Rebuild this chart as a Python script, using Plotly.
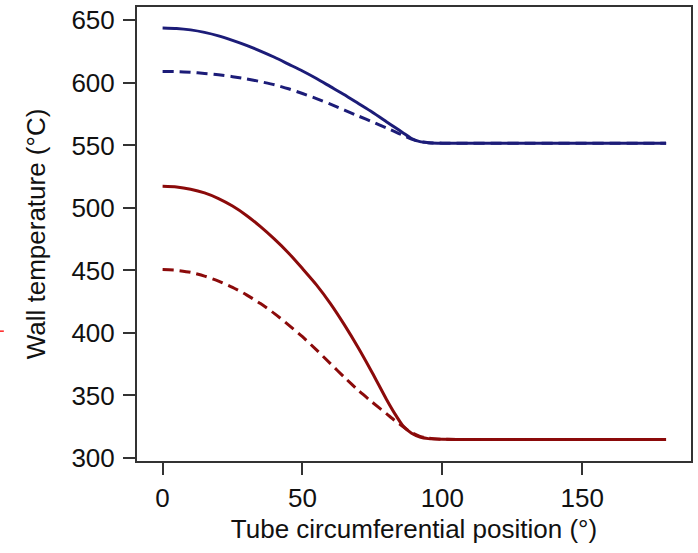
import plotly.graph_objects as go

# circumferential position (deg)
pos = [0, 5, 10, 15, 20, 25, 30, 35, 40, 45, 50, 55, 60, 65, 70, 75, 80, 83, 86, 89, 92, 95, 100,
       110, 120, 130, 140, 150, 160, 170, 180]

blue_solid = [644, 643.6, 642.4, 640.4, 637.6, 634, 630, 625.5, 620.5, 615, 609.5, 603.5, 597, 590.5,
              583.5, 576.5, 569, 564.5, 560, 555.5, 553, 552.2, 551.8,
              551.8, 551.8, 551.8, 551.8, 551.8, 551.8, 551.8, 551.8]
blue_dash = [609.2, 609.0, 608.5, 607.6, 606.5, 605.0, 603.2, 601.0, 598.5, 595.3, 591.5, 587.5, 583,
             578.3, 573.5, 568.8, 564, 561, 558, 555, 553, 552.2, 551.8,
             551.8, 551.8, 551.8, 551.8, 551.8, 551.8, 551.8, 551.8]
red_solid = [517.3, 516.8, 515, 512, 507.5, 501.5, 494, 485, 475, 464, 451.5, 438.5, 423.5, 406.5,
             388, 368, 347, 335.5, 325.5, 319.8, 316.8, 315.5, 315,
             314.8, 314.8, 314.8, 314.8, 314.8, 314.8, 314.8, 314.8]
red_dash = [450.7, 450.1, 448.5, 445.5, 441.5, 436.5, 430.5, 423.5, 415.5, 406.5, 397, 386.5, 375.5,
            364.5, 354, 344.5, 335.5, 330, 325, 320.3, 317.3, 315.8, 315,
            314.8, 314.8, 314.8, 314.8, 314.8, 314.8, 314.8, 314.8]

x_ticks = [0, 50, 100, 150]
y_ticks = [300, 350, 400, 450, 500, 550, 600, 650]

BLUE = "#1c1c78"
RED = "#8b0a0a"
FONT = "Liberation Sans, Arial, sans-serif"
FS = 26

fig = go.Figure()
for ys, col, dash in [(blue_solid, BLUE, "solid"), (blue_dash, BLUE, "11px,6px"),
                      (red_solid, RED, "solid"), (red_dash, RED, "11px,6px")]:
    fig.add_trace(go.Scatter(x=pos, y=ys, mode="lines",
                             line=dict(color=col, width=3, dash=dash, shape="spline", smoothing=0.6),
                             showlegend=False, hoverinfo="skip"))

axis_common = dict(showline=True, linecolor="#333333", linewidth=2, mirror=True,
                   ticks="outside", ticklen=12, tickwidth=1.5, tickcolor="#333333",
                   showgrid=False, zeroline=False,
                   tickfont=dict(family=FONT, size=FS, color="#111111"))

fig.update_layout(
    width=698, height=553,
    margin=dict(l=137, r=7, t=7, b=92),
    paper_bgcolor="white", plot_bgcolor="white",
    font=dict(family=FONT, size=FS, color="#111111"),
    xaxis=dict(range=[-9.15, 188.9], tickvals=x_ticks, ticktext=[str(v) for v in x_ticks],
               title=dict(text="Tube circumferential position (°)", standoff=8,
                          font=dict(family=FONT, size=FS, color="#111111")),
               ticklabelstandoff=1, automargin=False, **axis_common),
    yaxis=dict(range=[297.6, 660.7], tickvals=y_ticks, ticktext=[str(v) for v in y_ticks],
               title=dict(text="Wall temperature (°C)", standoff=18,
                          font=dict(family=FONT, size=FS, color="#111111")),
               ticklabelstandoff=3, automargin=False, **axis_common),
    shapes=[dict(type="line", xref="paper", yref="paper", x0=-0.2474, x1=-0.2404,
                 y0=0.286, y1=0.286, line=dict(color="#ff2020", width=1.5))],
)

fig.write_html("out.html", config={"displayModeBar": False},
               post_script="document.body.style.margin='0';document.body.style.overflow='hidden';")
